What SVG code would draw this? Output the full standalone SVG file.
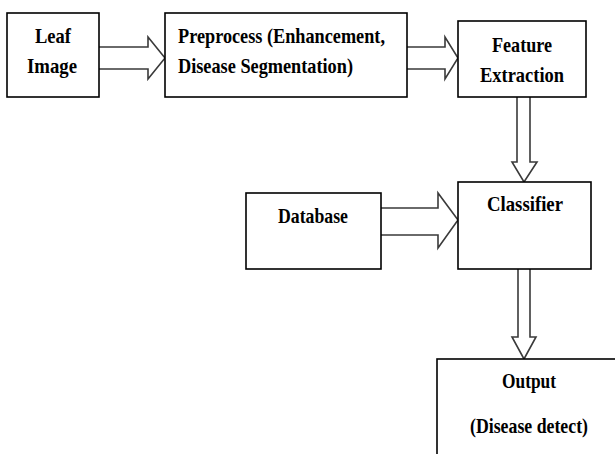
<svg xmlns="http://www.w3.org/2000/svg" width="615" height="454" viewBox="0 0 615 454">
<style>
.box{fill:#fff;stroke:#000;stroke-width:1.6}
.arr{fill:#fff;stroke:#3a3a3a;stroke-width:1.6;stroke-linejoin:miter}
text{font-family:"Liberation Serif","Times New Roman",serif;font-weight:bold;font-size:21px;fill:#000}
</style>
<rect width="615" height="454" fill="#fff"/>
<g id="connectors">
<path class="arr" d="M99,47 H148 V37 L165,58 L148,79 V69 H99"/>
<path class="arr" d="M407,47 H445 V37 L458,58 L445,79 V69 H407"/>
<path class="arr" d="M517,97 V162 H512 L524,182 L537,162 H530 V97"/>
<path class="arr" d="M381,208 H438 V193 L458,220 L438,248 V235 H381"/>
<path class="arr" d="M518,269 V337 H512 L524,359 L536,337 H530 V269"/>
</g>
<g id="leaf">
<rect class="box" x="7" y="13" width="92" height="84"/>
<text x="35" y="43" textLength="36" lengthAdjust="spacingAndGlyphs">Leaf</text>
<text x="27" y="73" textLength="50" lengthAdjust="spacingAndGlyphs">Image</text>
</g>
<g id="preprocess">
<rect class="box" x="165" y="13" width="242" height="84"/>
<text x="178" y="43" textLength="207" lengthAdjust="spacingAndGlyphs">Preprocess (Enhancement,</text>
<text x="178" y="73" textLength="175" lengthAdjust="spacingAndGlyphs">Disease Segmentation)</text>
</g>
<g id="feature">
<rect class="box" x="458" y="21" width="128" height="76"/>
<text x="492" y="52" textLength="60" lengthAdjust="spacingAndGlyphs">Feature</text>
<text x="480" y="82" textLength="84" lengthAdjust="spacingAndGlyphs">Extraction</text>
</g>
<g id="classifier">
<rect class="box" x="458" y="182" width="133" height="87"/>
<text x="487" y="211" textLength="76" lengthAdjust="spacingAndGlyphs">Classifier</text>
</g>
<g id="database">
<rect class="box" x="246" y="193" width="135" height="76"/>
<text x="278" y="223" textLength="70" lengthAdjust="spacingAndGlyphs">Database</text>
</g>
<g id="output">
<rect class="box" x="437" y="359" width="200" height="110"/>
<text x="502" y="388" textLength="54" lengthAdjust="spacingAndGlyphs">Output</text>
<text x="470" y="433" textLength="118" lengthAdjust="spacingAndGlyphs">(Disease detect)</text>
</g>
</svg>
